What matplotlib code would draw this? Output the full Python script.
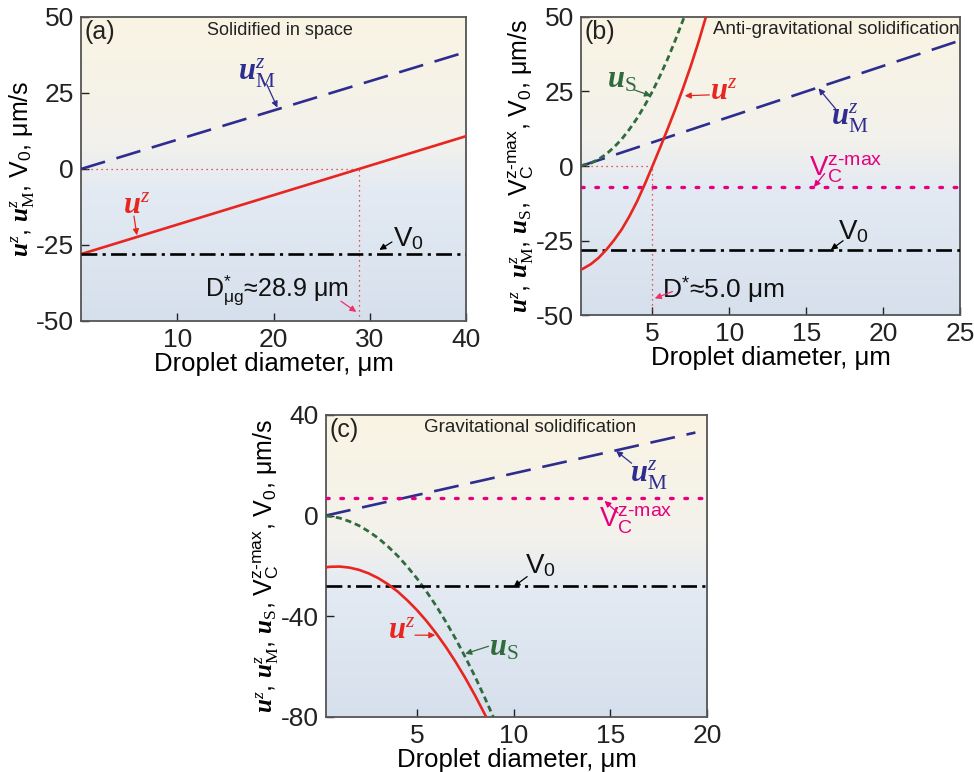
import numpy as np
import matplotlib
matplotlib.use('Agg')
import matplotlib.pyplot as plt
from matplotlib.colors import LinearSegmentedColormap

plt.rcParams['font.family'] = ['Liberation Sans', 'DejaVu Sans']
plt.rcParams['axes.unicode_minus'] = False
plt.rcParams['mathtext.fontset'] = 'custom'
plt.rcParams['mathtext.rm'] = 'Liberation Sans'
plt.rcParams['mathtext.it'] = 'Liberation Serif:italic'
plt.rcParams['mathtext.bf'] = 'Liberation Serif:bold:italic'
plt.rcParams['mathtext.sf'] = 'Liberation Serif'

# ---- data ----
# (a) solidified in space
a_x = [0, 40]
a_uM = [0, 38.5]
a_uz = [-28, 10.8]
a_V0 = -28
a_Dstar = 28.9

# (b) anti-gravitational solidification
b_x_line = [0.35, 25]
b_uM = [0, 42]
b_x = [0.35, 0.5, 1, 1.5, 2, 2.5, 3, 3.5, 4, 4.5, 5, 5.5, 6, 6.5, 7, 7.5, 8, 8.5, 9]
b_uz = [-34.7, -34.3, -32.8, -30.7, -28.0, -24.8, -21.2, -16.8, -11.8, -6.1, 0.0,
        6.2, 12.6, 19.2, 26.2, 33.6, 41.6, 50.3, 59.0]
b_xs = [0.35, 0.5, 1, 1.5, 2, 2.5, 3, 3.5, 4, 4.5, 5, 5.5, 6, 6.5, 7, 7.5]
b_uS = [0.1, 0.3, 1.0, 2.3, 4.0, 6.3, 9.0, 12.3, 16.0, 20.3, 25.0, 30.3, 36.0, 42.3, 49.0, 56.3]
b_VC = -7
b_V0 = -28
b_Dstar = 5.0

# (c) gravitational solidification
c_x_line = [0.3, 19.4]
c_uM = [0, 33]
c_x = [0.3, 0.5, 1, 1.5, 2, 2.5, 3, 3.5, 4, 4.5, 5, 5.5, 6, 6.5, 7, 7.5, 8, 8.5, 9]
c_uz = [-20.6, -20.4, -20.3, -20.7, -21.6, -23.0, -24.9, -27.3, -30.2, -33.7, -37.6,
        -42.0, -46.9, -52.3, -58.2, -64.6, -71.5, -78.9, -86.8]
c_xs = [0.3, 0.5, 1, 1.5, 2, 2.5, 3, 3.5, 4, 4.5, 5, 5.5, 6, 6.5, 7, 7.5, 8, 8.5, 9, 9.5]
c_uS = [-0.1, -0.3, -1.0, -2.3, -4.0, -6.3, -9.0, -12.3, -16.0, -20.3, -25.0, -30.3,
        -36.0, -42.3, -49.0, -56.3, -64.0, -72.3, -81.0, -90.3]
c_VC = 7
c_V0 = -28

NAVY = '#2e2d8f'
RED = '#e8251f'
GREEN = '#2f6b3c'
MAG = '#e5007d'
PINK = '#f0306a'

bg = LinearSegmentedColormap.from_list('bg', [(0, '#d6e0ec'), (0.42, '#e3eaf3'),
                                              (0.58, '#f2f1ec'), (1, '#faf4e3')])

fig = plt.figure(figsize=(9.74, 7.72), dpi=100)
axa = fig.add_axes([0.0832, 0.5842, 0.3953, 0.3938])
axb = fig.add_axes([0.5965, 0.5914, 0.3891, 0.3871])
axc = fig.add_axes([0.3347, 0.0717, 0.3912, 0.3908])


def style(ax, xlim, ylim, xt, yt):
    ax.imshow(np.linspace(0, 1, 256).reshape(-1, 1), cmap=bg, origin='lower', aspect='auto',
              extent=[0, 1, 0, 1], transform=ax.transAxes, zorder=0)
    ax.set_xlim(xlim)
    ax.set_ylim(ylim)
    ax.set_xticks(xt)
    ax.set_yticks(yt)
    ax.tick_params(direction='in', length=6, width=1, labelsize=19, pad=5, colors='#222222',
                   top=False, right=False)
    for s in ax.spines.values():
        s.set_color('#555555')
        s.set_linewidth(1.3)
    ax.set_xlabel('Droplet diameter, μm', fontsize=18.5, labelpad=0)


def arrow(ax, xy_from, xy_to, color):
    ax.annotate('', xy=xy_to, xytext=xy_from,
                arrowprops=dict(arrowstyle='-|>', color=color, lw=0.9, mutation_scale=9,
                                shrinkA=0, shrinkB=0), zorder=6)


dash_uM = (0, (9.5, 4.5))
dash_V0 = (0, (6, 2, 1.2, 2))
dash_uS = (0, (2.2, 1.4))
dot_VC = (0, (0.8, 3.5))
dot_ref = (0, (1, 3))

# ---------------- (a) ----------------
ax = axa
style(ax, (0, 40), (-50, 50), [10, 20, 30, 40], [-50, -25, 0, 25, 50])
ax.plot(a_x, a_uM, color=NAVY, lw=1.9, ls=dash_uM, zorder=3)
ax.plot(a_x, a_uz, color=RED, lw=1.9, zorder=3)
ax.axhline(a_V0, color='black', lw=1.9, ls=dash_V0, zorder=3)
ax.plot([0, a_Dstar], [0, 0], color=RED, lw=0.9, ls=dot_ref, zorder=2)
ax.plot([a_Dstar, a_Dstar], [-50, 0], color=RED, lw=0.9, ls=dot_ref, zorder=2)
ax.text(0.01, 0.99, '(a)', transform=ax.transAxes, ha='left', va='top', fontsize=18, color='#222222')
ax.text(0.517, 0.985, 'Solidified in space', transform=ax.transAxes, ha='center', va='top',
        fontsize=13, color='#222222')
ax.text(18.3, 31.5, r'$\mathbf{u}^{z}_{\mathsf{M}}$', color=NAVY, fontsize=22, ha='center', va='center')
arrow(ax, (19.3, 27.8), (20.4, 20.2), NAVY)
ax.text(5.8, -12, r'$\mathbf{u}^{z}$', color=RED, fontsize=22, ha='center', va='center')
arrow(ax, (5.5, -15.5), (5.8, -21.8), RED)
ax.text(34.0, -23.0, r'V$_0$', color='#111111', fontsize=20, ha='center', va='center')
arrow(ax, (32.3, -24.0), (31.0, -26.6), 'black')
ax.text(20.3, -40, r'D$^{*}_{\mathrm{μg}}$≈28.9 μm', color='#111111', fontsize=18,
        ha='center', va='center')
arrow(ax, (27.0, -43.5), (28.6, -47.0), PINK)
ax.set_ylabel(r'$\mathbf{u}^{z}$, $\mathbf{u}^{z}_{\mathsf{M}}$, V$_0$, μm/s', fontsize=18, labelpad=0)

# ---------------- (b) ----------------
ax = axb
style(ax, (0.35, 25), (-50, 50), [5, 10, 15, 20, 25], [-50, -25, 0, 25, 50])
ax.plot(b_x_line, b_uM, color=NAVY, lw=1.9, ls=dash_uM, zorder=3)
ax.plot(b_xs, b_uS, color=GREEN, lw=2.0, ls=dash_uS, zorder=3)
ax.plot(b_x, b_uz, color=RED, lw=1.9, zorder=4)
ax.axhline(b_VC, color=MAG, lw=2.4, ls=dot_VC, dash_capstyle='round', zorder=3)
ax.axhline(b_V0, color='black', lw=1.9, ls=dash_V0, zorder=3)
ax.plot([0.35, b_Dstar], [0, 0], color=RED, lw=0.9, ls=dot_ref, zorder=2)
ax.plot([b_Dstar, b_Dstar], [-50, 0], color=RED, lw=0.9, ls=dot_ref, zorder=2)
ax.text(0.01, 0.99, '(b)', transform=ax.transAxes, ha='left', va='top', fontsize=18, color='#222222')
ax.text(0.675, 0.985, 'Anti-gravitational solidification', transform=ax.transAxes, ha='center',
        va='top', fontsize=13.5, color='#222222')
ax.text(3.0, 29, r'$\mathbf{u}_{\mathsf{S}}$', color=GREEN, fontsize=22, ha='center', va='center')
arrow(ax, (3.8, 25.5), (4.9, 23.5), GREEN)
ax.text(9.6, 25, r'$\mathbf{u}^{z}$', color=RED, fontsize=22, ha='center', va='center')
arrow(ax, (8.7, 23.8), (7.1, 23.5), RED)
ax.text(17.8, 16, r'$\mathbf{u}^{z}_{\mathsf{M}}$', color=NAVY, fontsize=22, ha='center', va='center')
arrow(ax, (16.9, 19.2), (15.8, 26.0), NAVY)
ax.text(17.6, -1.0, r'V$_{\mathrm{C}}^{\mathrm{z‐max}}$', color=MAG, fontsize=20, ha='center', va='center')
arrow(ax, (16.2, -2.5), (15.5, -7.0), MAG)
ax.text(18.1, -22.0, r'V$_0$', color='#111111', fontsize=20, ha='center', va='center')
arrow(ax, (17.4, -25.0), (16.6, -28.0), 'black')
ax.text(9.6, -41.5, r'D$^{*}$≈5.0 μm', color='#111111', fontsize=19, ha='center', va='center')
arrow(ax, (6.3, -42.0), (5.15, -44.3), PINK)
ax.set_ylabel(r'$\mathbf{u}^{z}$, $\mathbf{u}^{z}_{\mathsf{M}}$, $\mathbf{u}_{\mathsf{S}}$, '
              r'V$_{\mathrm{C}}^{\mathrm{z‐max}}$, V$_0$, μm/s', fontsize=18, labelpad=0)

# ---------------- (c) ----------------
ax = axc
style(ax, (0.3, 20), (-80, 40), [5, 10, 15, 20], [-80, -40, 0, 40])
ax.plot(c_x_line, c_uM, color=NAVY, lw=1.9, ls=dash_uM, zorder=3)
ax.plot(c_xs, c_uS, color=GREEN, lw=2.0, ls=dash_uS, zorder=3)
ax.plot(c_x, c_uz, color=RED, lw=1.9, zorder=4)
ax.axhline(c_VC, color=MAG, lw=2.4, ls=dot_VC, dash_capstyle='round', zorder=3)
ax.axhline(c_V0, color='black', lw=1.9, ls=dash_V0, zorder=3)
ax.text(0.01, 0.99, '(c)', transform=ax.transAxes, ha='left', va='top', fontsize=18, color='#222222')
ax.text(0.535, 0.985, 'Gravitational solidification', transform=ax.transAxes, ha='center',
        va='top', fontsize=13.5, color='#222222')
ax.text(17.0, 16.0, r'$\mathbf{u}^{z}_{\mathsf{M}}$', color=NAVY, fontsize=22, ha='center', va='center')
arrow(ax, (16.1, 20.8), (15.3, 25.7), NAVY)
ax.text(16.3, -2.0, r'V$_{\mathrm{C}}^{\mathrm{z‐max}}$', color=MAG, fontsize=20, ha='center', va='center')
arrow(ax, (15.4, 1.0), (14.7, 5.8), MAG)
ax.text(11.4, -20.0, r'V$_0$', color='#111111', fontsize=20, ha='center', va='center')
arrow(ax, (10.7, -24.3), (10.0, -28.3), 'black')
ax.text(4.2, -45.5, r'$\mathbf{u}^{z}$', color=RED, fontsize=22, ha='center', va='center')
arrow(ax, (4.9, -47.6), (5.95, -47.6), RED)
ax.text(9.5, -52.5, r'$\mathbf{u}_{\mathsf{S}}$', color=GREEN, fontsize=22, ha='center', va='center')
arrow(ax, (8.7, -52.0), (7.5, -55.0), GREEN)
ax.set_ylabel(r'$\mathbf{u}^{z}$, $\mathbf{u}^{z}_{\mathsf{M}}$, $\mathbf{u}_{\mathsf{S}}$, '
              r'V$_{\mathrm{C}}^{\mathrm{z‐max}}$, V$_0$, μm/s', fontsize=18, labelpad=0)

fig.savefig('out.png', dpi=100)
